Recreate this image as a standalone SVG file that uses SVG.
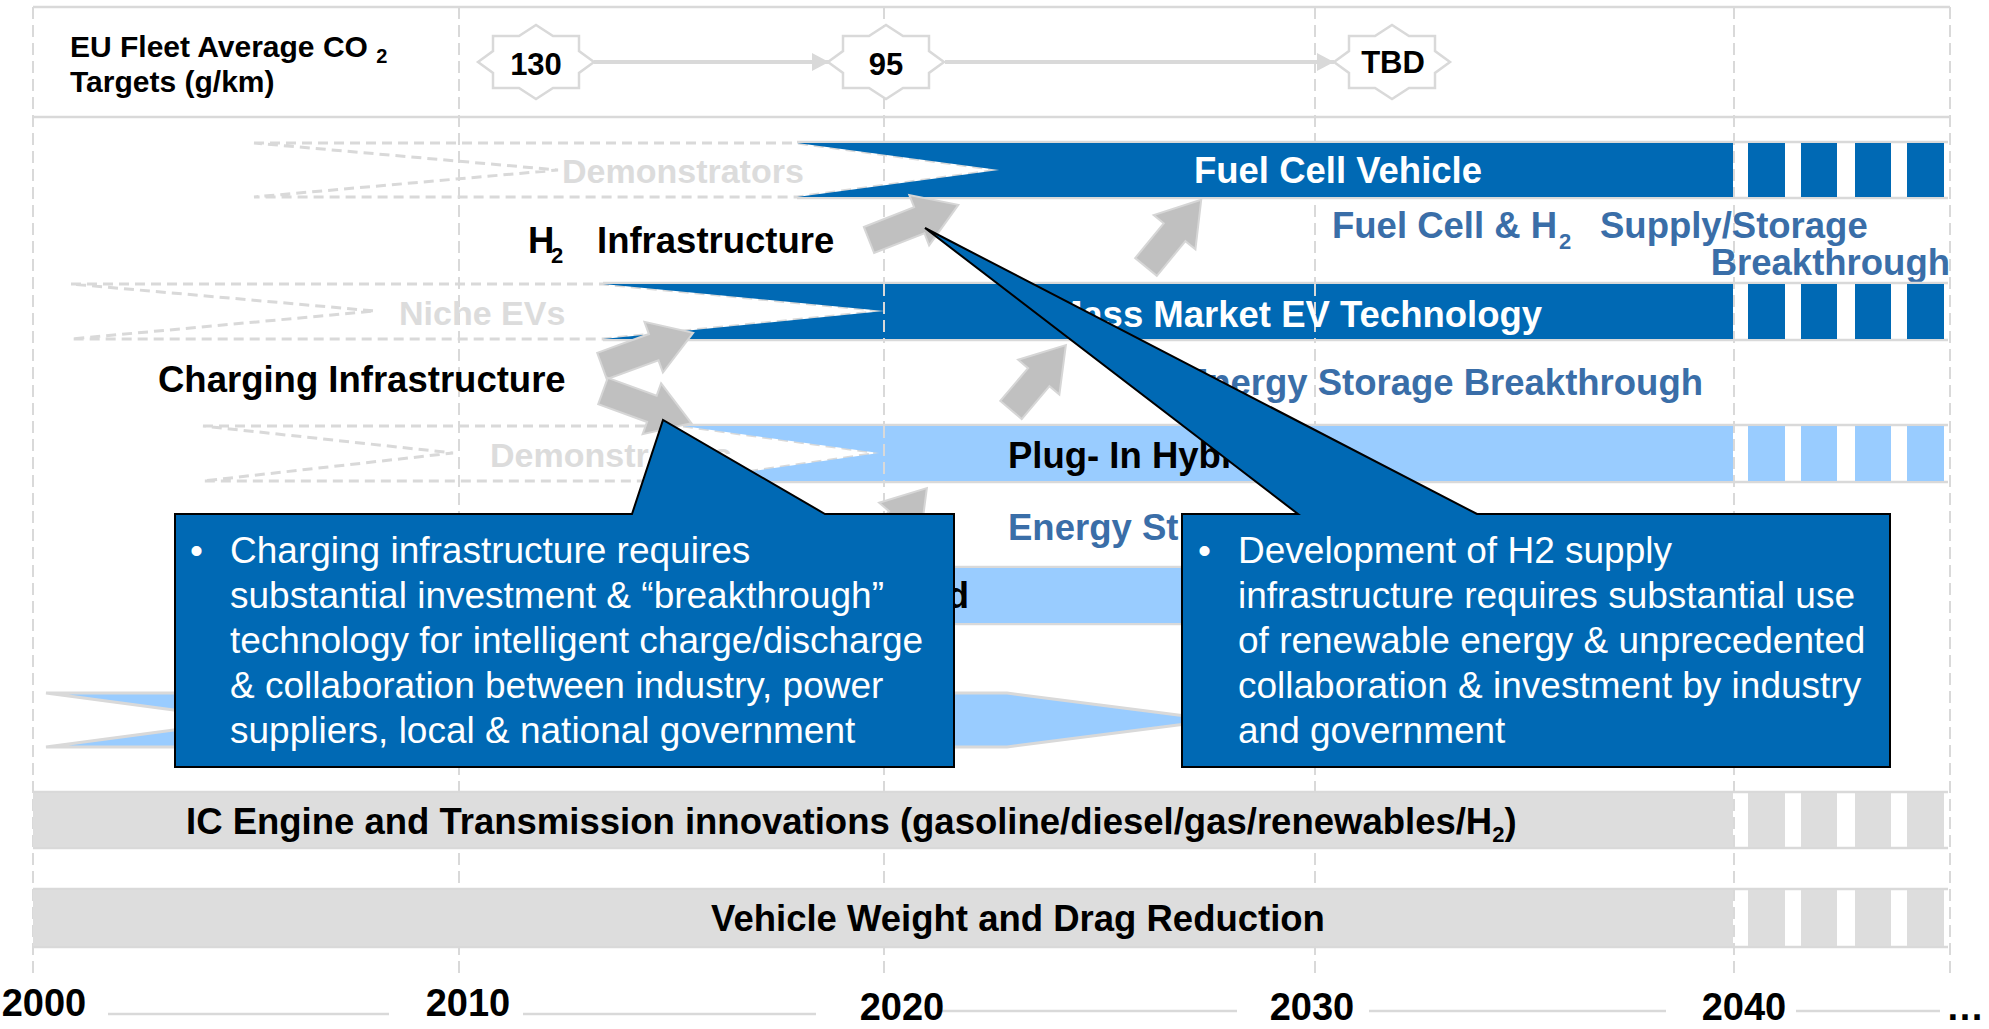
<svg xmlns="http://www.w3.org/2000/svg" width="1989" height="1029" viewBox="0 0 1989 1029">
<style>
text{font-family:"Liberation Sans",Arial,Helvetica,sans-serif}
.grid{stroke:#d9d9d9;stroke-width:2;stroke-dasharray:12 6;fill:none}
.solid{stroke:#d9d9d9;stroke-width:2.5;fill:none}
.dk{fill:#0069b4}
.lt{fill:#99ccff}
.gr{fill:#dddddd}
.lane{stroke:#d9d9d9;stroke-width:2.5}
.chev{fill:none;stroke:#d9d9d9;stroke-width:3;stroke-dasharray:10 6}
.ghost{fill:#dcdcdc;font-weight:bold;font-size:34px}
.lbl{font-weight:bold;font-size:36.5px}
.bt{fill:#3a6ea8}
.barrow{fill:#c0c0c0;stroke:#d6d6d6;stroke-width:2}
.callout{fill:#0069b4;stroke:#000;stroke-width:2}
.ct{fill:#fff;font-size:37px}
.yr{font-weight:bold;font-size:38px;fill:#000}
.star{fill:#fff;stroke:#d9d9d9;stroke-width:2.5}
.num{font-weight:bold;font-size:31px;fill:#000;text-anchor:middle}
.tline{stroke:#d9d9d9;stroke-width:4;fill:none}
.ov{stroke:#d9d9d9;stroke-width:2;stroke-dasharray:12 6}
</style>
<defs>
<path id="star" d="M58,0 L43,-11 L43,-26 L17,-26 L0,-37 L-17,-26 L-43,-26 L-43,-11 L-58,0 L-43,11 L-43,26 L-17,26 L0,37 L17,26 L43,26 L43,11 Z"/>
<marker id="ah" markerUnits="userSpaceOnUse" markerWidth="20" markerHeight="20" refX="17" refY="9" orient="auto">
<path d="M0,0 L17,9 L0,18 Z" fill="#d9d9d9"/>
</marker>
</defs>
<rect width="1989" height="1029" fill="#fff"/>

<g id="grid">
<line x1="33" y1="7" x2="1950" y2="7" class="solid"/>
<line x1="33" y1="117" x2="1950" y2="117" class="solid"/>
<line x1="33" y1="7" x2="33" y2="975" class="grid"/>
<line x1="459" y1="7" x2="459" y2="975" class="grid"/>
<line x1="884" y1="7" x2="884" y2="975" class="grid"/>
<line x1="1315" y1="7" x2="1315" y2="975" class="grid"/>
<line x1="1734" y1="7" x2="1734" y2="975" class="grid"/>
<line x1="1950" y1="7" x2="1950" y2="975" class="grid"/>
</g>

<g id="co2-title">
<text x="70" y="57" font-weight="bold" font-size="30">EU Fleet Average CO <tspan font-size="20" dy="6">2</tspan></text>
<text x="70" y="92" font-weight="bold" font-size="30">Targets (g/km)</text>
</g>

<g id="connectors">
<line x1="594" y1="62" x2="829" y2="62" class="tline" marker-end="url(#ah)"/>
<line x1="945" y1="62" x2="1334" y2="62" class="tline" marker-end="url(#ah)"/>
</g>

<g id="target-130"><use href="#star" x="536" y="62" class="star"/><text x="536" y="75" class="num">130</text></g>
<g id="target-95"><use href="#star" x="886" y="62" class="star"/><text x="886" y="75" class="num">95</text></g>
<g id="target-tbd"><use href="#star" x="1392" y="62" class="star"/><text x="1393" y="73" class="num">TBD</text></g>

<g id="fcv-demonstrators">
<path d="M254,143 L797,143 L999,170 L797,197 L254,197 L558,170 Z" class="chev"/>
<text x="562" y="183" class="ghost">Demonstrators</text>
</g>
<g id="fuel-cell-vehicle">
<line x1="797" y1="142" x2="1948" y2="142" class="lane"/>
<line x1="797" y1="198" x2="1948" y2="198" class="lane"/>
<path d="M797,143 L1733,143 L1733,197 L797,197 L999,170 Z" class="dk"/>
<rect x="1748" y="143" width="37" height="54" class="dk"/>
<rect x="1801" y="143" width="36" height="54" class="dk"/>
<rect x="1855" y="143" width="36" height="54" class="dk"/>
<rect x="1907" y="143" width="37" height="54" class="dk"/>
<text x="1338" y="183" class="lbl" fill="#fff" text-anchor="middle">Fuel Cell Vehicle</text>
</g>

<g id="h2-infrastructure">
<text y="253" class="lbl" fill="#000"><tspan x="528">H</tspan><tspan x="551" y="263" font-size="22">2</tspan><tspan x="597" y="253">Infrastructure</tspan></text>
</g>

<g id="fc-h2-breakthrough">
<text y="238" class="lbl bt"><tspan x="1332">Fuel Cell &amp; H</tspan><tspan x="1559" y="249" font-size="22">2</tspan><tspan x="1600" y="238">Supply/Storage</tspan></text>
<text x="1950" y="275" class="lbl bt" text-anchor="end">Breakthrough</text>
</g>

<g id="niche-evs">
<path d="M71,284 L603,284 L884,311 L603,339 L71,339 L375,311 Z" class="chev"/>
<text x="399" y="325" class="ghost">Niche EVs</text>
</g>
<g id="mass-market-ev">
<line x1="603" y1="283" x2="1948" y2="283" class="lane"/>
<line x1="603" y1="340" x2="1948" y2="340" class="lane"/>
<path d="M603,284 L1733,284 L1733,339 L603,339 L884,311 Z" class="dk"/>
<rect x="1748" y="284" width="37" height="55" class="dk"/>
<rect x="1801" y="284" width="36" height="55" class="dk"/>
<rect x="1855" y="284" width="36" height="55" class="dk"/>
<rect x="1907" y="284" width="37" height="55" class="dk"/>
<line x1="884" y1="284" x2="884" y2="339" class="ov"/>
<line x1="1315" y1="284" x2="1315" y2="339" class="ov"/>
<text x="1297" y="327" class="lbl" fill="#fff" text-anchor="middle">Mass Market EV Technology</text>
</g>

<g id="charging-infrastructure">
<text x="158" y="392" class="lbl" fill="#000">Charging Infrastructure</text>
</g>

<g id="energy-storage-1">
<text x="1703" y="395" class="lbl bt" text-anchor="end">Energy Storage Breakthrough</text>
</g>

<g id="phev-demonstrators">
<path d="M203,426 L683,426 L879,453 L683,481 L203,481 L453,453 Z" class="chev"/>
<text x="490" y="467" class="ghost">Demonstrators</text>
</g>
<g id="plug-in-hybrid">
<line x1="683" y1="425" x2="1948" y2="425" class="lane"/>
<line x1="683" y1="482" x2="1948" y2="482" class="lane"/>
<path d="M683,426 L1733,426 L1733,481 L683,481 L879,453 Z" class="lt"/>
<rect x="1748" y="426" width="37" height="55" class="lt"/>
<rect x="1801" y="426" width="36" height="55" class="lt"/>
<rect x="1855" y="426" width="36" height="55" class="lt"/>
<rect x="1907" y="426" width="37" height="55" class="lt"/>
<line x1="884" y1="426" x2="884" y2="481" class="ov"/>
<text x="1008" y="468" class="lbl" fill="#000">Plug- In Hybrid</text>
</g>

<g id="energy-storage-2">
<text x="1008" y="540" class="lbl bt">Energy St</text>
</g>

<g id="full-hybrid">
<line x1="500" y1="567" x2="1500" y2="567" class="lane"/>
<line x1="500" y1="624" x2="1500" y2="624" class="lane"/>
<rect x="500" y="568" width="1000" height="55" class="lt"/>
<text x="969" y="608" class="lbl" fill="#000" text-anchor="end">d</text>
</g>

<g id="micro-mild-hybrid">
<path d="M46,693 L1007,693 L1217,720 L1007,747 L46,747 L249,720 Z" class="lt" stroke="#d9d9d9" stroke-width="3"/>
</g>

<g id="ic-engine">
<line x1="33" y1="792" x2="1948" y2="792" class="lane" stroke="#e4e4e4"/>
<line x1="33" y1="848" x2="1948" y2="848" class="lane" stroke="#e4e4e4"/>
<rect x="33" y="793" width="1700" height="54" class="gr"/>
<rect x="1748" y="793" width="37" height="54" class="gr"/>
<rect x="1801" y="793" width="36" height="54" class="gr"/>
<rect x="1855" y="793" width="36" height="54" class="gr"/>
<rect x="1907" y="793" width="37" height="54" class="gr"/>
<text x="186" y="834" class="lbl" fill="#000">IC Engine and Transmission innovations (gasoline/diesel/gas/renewables/H<tspan font-size="22" dy="8">2</tspan><tspan dy="-8">)</tspan></text>
</g>

<g id="vehicle-weight">
<line x1="33" y1="889" x2="1948" y2="889" class="lane" stroke="#e4e4e4"/>
<line x1="33" y1="947" x2="1948" y2="947" class="lane" stroke="#e4e4e4"/>
<rect x="33" y="890" width="1700" height="56" class="gr"/>
<rect x="1748" y="890" width="37" height="56" class="gr"/>
<rect x="1801" y="890" width="36" height="56" class="gr"/>
<rect x="1855" y="890" width="36" height="56" class="gr"/>
<rect x="1907" y="890" width="37" height="56" class="gr"/>
<text x="1018" y="931" class="lbl" fill="#000" text-anchor="middle">Vehicle Weight and Drag Reduction</text>
</g>

<g id="block-arrows">
<path d="M0,-14 H54 V-27 L96,0 L54,27 V14 H0 Z" transform="translate(869,240) rotate(-21.5)" class="barrow"/>
<path d="M0,-14 H45 V-27 L87,0 L45,27 V14 H0 Z" transform="translate(1146,267) rotate(-50.6)" class="barrow"/>
<path d="M0,-14 H55 V-27 L97,0 L55,27 V14 H0 Z" transform="translate(602,366) rotate(-20)" class="barrow"/>
<path d="M0,-14 H52 V-27 L94,0 L52,27 V14 H0 Z" transform="translate(603,391) rotate(20)" class="barrow"/>
<path d="M0,-14 H43 V-27 L85,0 L43,27 V14 H0 Z" transform="translate(1011,410) rotate(-49.8)" class="barrow"/>
<path d="M0,-14 H43 V-27 L85,0 L43,27 V14 H0 Z" transform="translate(872,553) rotate(-49.8)" class="barrow"/>
</g>

<g id="callout-charging">
<path d="M175,514 L632,514 L663,420 L825,514 L954,514 L954,767 L175,767 Z" class="callout"/>
<text x="190" y="563" class="ct">•</text>
<text class="ct">
<tspan x="230" y="563">Charging infrastructure requires</tspan>
<tspan x="230" y="608">substantial investment &amp; “breakthrough”</tspan>
<tspan x="230" y="653">technology for intelligent charge/discharge</tspan>
<tspan x="230" y="698">&amp; collaboration between industry, power</tspan>
<tspan x="230" y="743">suppliers, local &amp; national government</tspan>
</text>
</g>

<g id="callout-h2">
<path d="M1182,514 L1298,514 L925,228 L1477,514 L1890,514 L1890,767 L1182,767 Z" class="callout"/>
<text x="1198" y="563" class="ct">•</text>
<text class="ct">
<tspan x="1238" y="563">Development of H2 supply</tspan>
<tspan x="1238" y="608">infrastructure requires substantial use</tspan>
<tspan x="1238" y="653">of renewable energy &amp; unprecedented</tspan>
<tspan x="1238" y="698">collaboration &amp; investment by industry</tspan>
<tspan x="1238" y="743">and government</tspan>
</text>
</g>

<g id="time-axis">
<line x1="108" y1="1014" x2="389" y2="1014" stroke="#d9d9d9" stroke-width="2.5"/>
<line x1="523" y1="1014" x2="816" y2="1014" stroke="#d9d9d9" stroke-width="2.5"/>
<line x1="941" y1="1011" x2="1237" y2="1011" stroke="#d9d9d9" stroke-width="2.5"/>
<line x1="1369" y1="1011" x2="1666" y2="1011" stroke="#d9d9d9" stroke-width="2.5"/>
<line x1="1796" y1="1011" x2="1940" y2="1011" stroke="#d9d9d9" stroke-width="2.5"/>
<text x="44" y="1016" class="yr" text-anchor="middle">2000</text>
<text x="468" y="1016" class="yr" text-anchor="middle">2010</text>
<text x="902" y="1020" class="yr" text-anchor="middle">2020</text>
<text x="1312" y="1020" class="yr" text-anchor="middle">2030</text>
<text x="1744" y="1020" class="yr" text-anchor="middle">2040</text>
<text x="1946" y="1020" class="yr">…</text>
</g>
</svg>
